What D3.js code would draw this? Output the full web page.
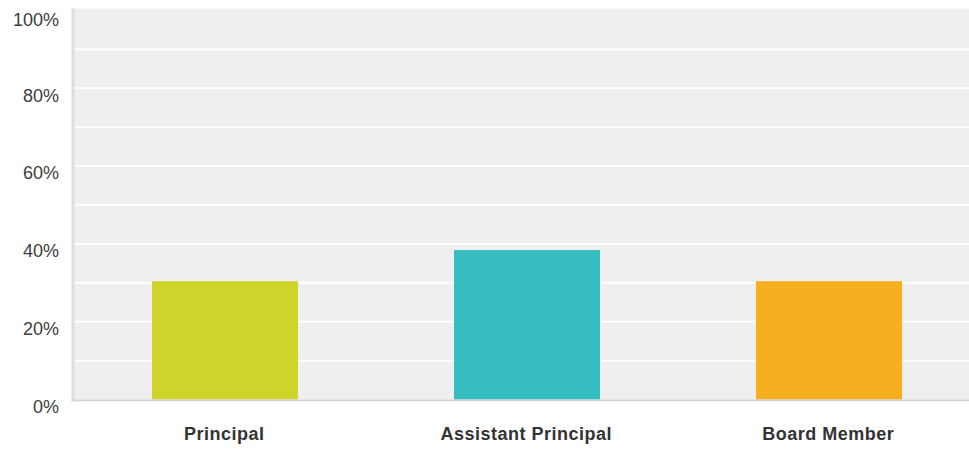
<!DOCTYPE html>
<html>
<head>
<meta charset="utf-8">
<script src="https://cdn.jsdelivr.net/npm/d3@7"></script>
<style>
  html, body { margin: 0; padding: 0; background: #fff; }
  svg { display: block; }
  text { font-family: "Liberation Sans", Arial, Helvetica, sans-serif; }
</style>
</head>
<body>
<svg id="chart" width="969" height="450"></svg>
<script>
const categories = ["Principal", "Assistant Principal", "Board Member"];
const values = [30.4, 38.4, 30.4];
const barColors = ["#cfd42a", "#35bdbf", "#f6b01f"];
const tickValues = [0, 20, 40, 60, 80, 100];
const gridValues = [10, 20, 30, 40, 50, 60, 70, 80, 90];

(function () {
const svg = d3.select("#chart");
const W = 969;
const plotLeft = 74, plotRight = 980, plotTop = 10.4, plotBottom = 399.5;

const x = d3.scaleBand().domain(categories).range([plotLeft, plotRight])
  .paddingInner(0.5166).paddingOuter(0.2583);
const y = d3.scaleLinear().domain([0, 100]).range([plotBottom, plotTop]);

// plot background
svg.append("rect").attr("x", 73.5).attr("y", 8.5)
  .attr("width", W - 73.5).attr("height", plotBottom - 8.5)
  .attr("fill", "#efefef");

// gridlines
svg.append("g").selectAll("line").data(gridValues).join("line")
  .attr("x1", 73.5).attr("x2", W)
  .attr("y1", d => y(d)).attr("y2", d => y(d))
  .attr("stroke", "#ffffff").attr("stroke-width", 1.8);

// bars
svg.append("g").selectAll("rect").data(values).join("rect")
  .attr("x", (d, i) => x(categories[i]))
  .attr("width", x.bandwidth())
  .attr("y", d => y(d))
  .attr("height", d => y(0) - y(d))
  .attr("fill", (d, i) => barColors[i]);

// left axis border
svg.append("rect").attr("x", 71.5).attr("y", 8.5).attr("width", 3).attr("height", plotBottom - 8.5 + 2)
  .attr("fill", "#dedede");
// bottom axis border
svg.append("rect").attr("x", 71.5).attr("y", plotBottom).attr("width", W - 71.5).attr("height", 1.8)
  .attr("fill", "#d3d3d3");

// y tick labels
const yAxis = d3.axisLeft(y).tickValues(tickValues).tickFormat(d => d + "%").tickSize(0).tickPadding(0);
const gy = svg.append("g").attr("transform", "translate(59,0)").call(yAxis);
gy.select(".domain").remove();
gy.selectAll(".tick").attr("transform", d => `translate(0,${Math.max(y(d) + 7, 19.5)})`);
gy.selectAll("text")
  .attr("x", 0).attr("dy", "0.35em")
  .attr("font-size", 18).attr("fill", "#3c3c3c")
  .attr("font-family", "'Liberation Sans', Arial, sans-serif");

// x labels
const xAxis = d3.axisBottom(x).tickSize(0).tickPadding(0);
const gx = svg.append("g").call(xAxis);
gx.select(".domain").remove();
gx.selectAll("text")
  .attr("x", -0.8)
  .attr("y", 440).attr("dy", 0)
  .attr("font-size", 18).attr("font-weight", "bold")
  .attr("letter-spacing", "0.5px")
  .attr("fill", "#333333")
  .attr("font-family", "'Liberation Sans', Arial, sans-serif");
})();
</script>
</body>
</html>
